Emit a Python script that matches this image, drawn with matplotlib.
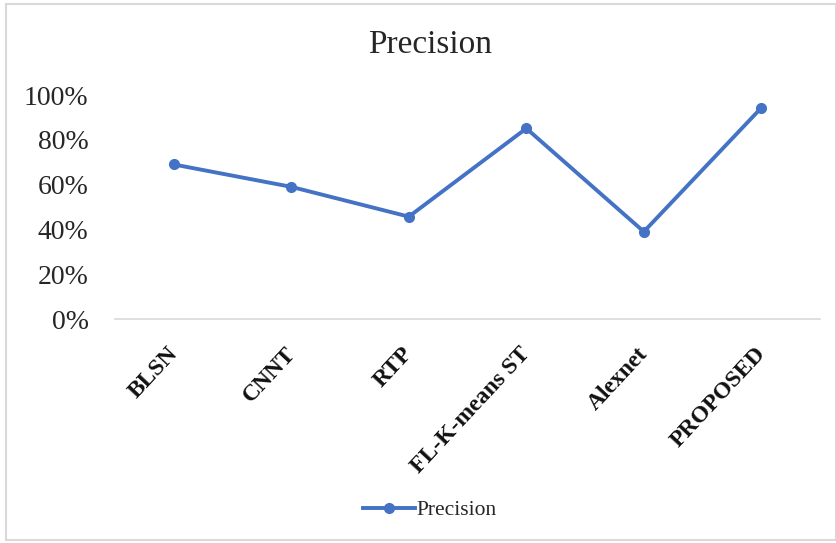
import matplotlib

matplotlib.use("Agg")
import matplotlib.pyplot as plt
from matplotlib.patches import Rectangle
from matplotlib.ticker import PercentFormatter
from matplotlib.transforms import ScaledTranslation

methods = ["BLSN", "CNNT", "RTP", "FL-K-means ST", "Alexnet", "PROPOSED"]
precision = [0.69, 0.59, 0.457, 0.851, 0.39, 0.943]
y_ticks = [0.0, 0.2, 0.4, 0.6, 0.8, 1.0]

plt.rcParams["font.family"] = ["Liberation Serif", "DejaVu Serif"]

fig = plt.figure(figsize=(8.36, 5.43), dpi=100)
ax = fig.add_axes([0.1376, 0.4125, 0.8434, 0.4125])

blue = "#4472C4"
x = list(range(len(methods)))
ax.plot(x, precision, color=blue, linewidth=2.8, marker="o", markersize=7,
        label="Precision")

ax.set_xlim(-0.5, len(methods) - 0.5)
ax.set_ylim(0, 1.0)
ax.set_yticks(y_ticks)
ax.yaxis.set_major_formatter(PercentFormatter(1.0, decimals=0))
ax.tick_params(axis="y", length=0, pad=19, labelsize=20, labelcolor="#262626")
ax.set_xticks(x)
ax.set_xticklabels(methods, rotation=47, ha="right", va="top",
                   rotation_mode="anchor", fontweight="bold", fontsize=17)
ax.tick_params(axis="x", length=0, pad=18, labelcolor="#111111")
# nudge the rotated labels left so their ends sit under the markers
shift = ScaledTranslation(-0.07, 0.01, fig.dpi_scale_trans)
for lbl in ax.get_xticklabels():
    lbl.set_transform(lbl.get_transform() + shift)

for side in ["top", "right", "left"]:
    ax.spines[side].set_visible(False)
ax.spines["bottom"].set_color("#d9d9d9")
ax.spines["bottom"].set_linewidth(1.2)

fig.text(430 / 836, 1 - 45 / 543, "Precision", ha="center", va="center",
         fontsize=24, color="#262626")

fig.legend(loc="center", bbox_to_anchor=(430 / 836, 1 - 510 / 543),
           frameon=False, fontsize=15.5, handlelength=2.4, handletextpad=0.1,
           labelcolor="#262626")

fig.patches.append(Rectangle((6 / 836, 3 / 543), 1 - 6 / 836, 1 - 7 / 543,
                             transform=fig.transFigure, fill=False,
                             edgecolor="#d9d9d9", linewidth=1.5))

fig.savefig("out.png", dpi=100)
plt.close(fig)
